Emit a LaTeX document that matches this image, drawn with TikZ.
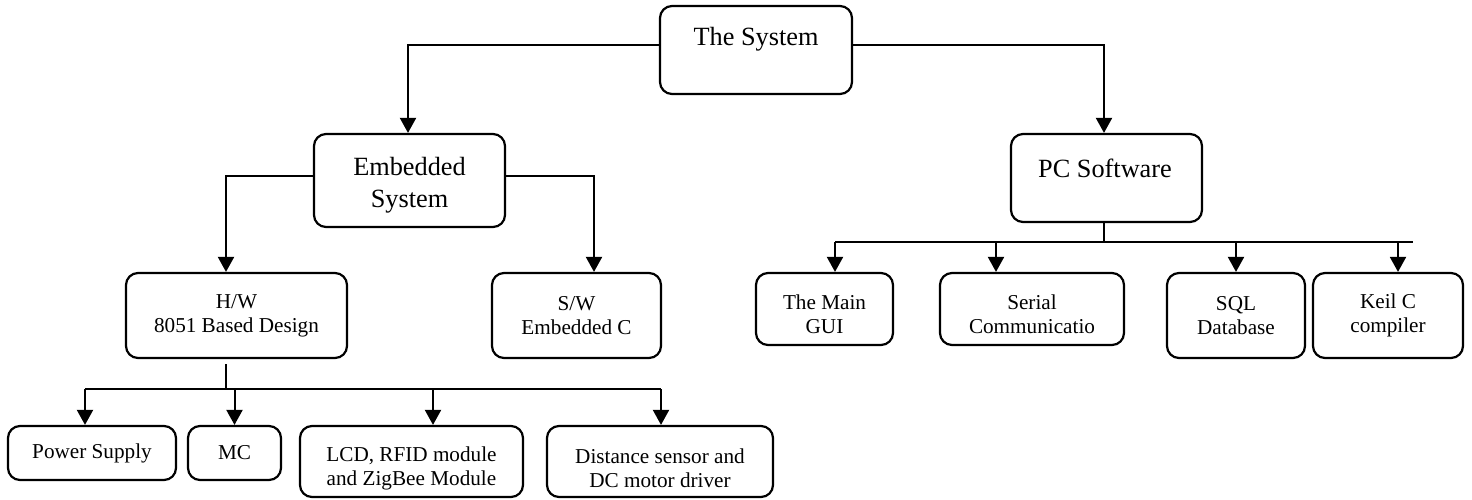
\documentclass[tikz,border=0pt]{standalone}
\usepackage{fontspec}
\setmainfont{Liberation Serif}
\usetikzlibrary{arrows.meta}
\begin{document}
\begin{tikzpicture}[x=0.5pt,y=-0.5pt,
  box/.style={draw, line width=1.1pt, rounded corners=6pt, inner sep=0pt, align=center},
  txt/.style={inner sep=0pt, align=center},
  big/.style={font=\fontsize{13.15}{16}\selectfont},
  small/.style={font=\fontsize{10.6}{12}\selectfont},
  conn/.style={line width=1pt},
  arr/.style={line width=1pt, -{Triangle[length=7.5pt,width=8pt]}}]
\useasboundingbox (0,0) rectangle (1472,499);

% boxes
\node[box, minimum width=96pt, minimum height=44pt] (sys) at (756,50) {};
\node[txt, big] (systxt) at (756,39) {The System};
\node[box, minimum width=95.5pt, minimum height=46.5pt] (emb) at (409.5,180.5) {};
\node[txt, big] (embtxt) at (409.5,185) {Embedded\\System};
\node[box, minimum width=95.5pt, minimum height=44pt] (pc) at (1106.5,178) {};
\node[txt, big] (pctxt) at (1105,168) {PC Software};
\node[box, small, minimum width=110.5pt, minimum height=42.5pt] (hw) at (236.5,315.5) {H/W\\8051 Based Design};
\node[box, small, minimum width=84.5pt, minimum height=42.5pt] (sw) at (576.5,315.5) {S/W\\Embedded C};
\node[box, minimum width=68.5pt, minimum height=36pt] (gui) at (824.5,309) {};
\node[txt, small] (guitxt) at (824.5,314.5) {The Main\\GUI};
\node[box, minimum width=92pt, minimum height=36pt] (ser) at (1032,309) {};
\node[txt, small] (sertxt) at (1032,314.5) {Serial\\Communicatio};
\node[box, small, minimum width=69pt, minimum height=42.5pt] (sql) at (1236,315.5) {SQL\\Database};
\node[box, small, minimum width=75pt, minimum height=42.5pt] (keil) at (1388,315.5) {Keil C\\compiler};
\node[box, small, minimum width=84pt, minimum height=27pt] (ps) at (92,453) {Power Supply};
\node[box, small, minimum width=46.5pt, minimum height=27pt] (mc) at (234.5,453) {MC};
\node[box, minimum width=111.5pt, minimum height=35.5pt] (lcd) at (411.5,461.5) {};
\node[txt, small] (lcdtxt) at (411.5,468) {LCD, RFID module\\and ZigBee Module};
\node[box, minimum width=113pt, minimum height=35.5pt] (dist) at (660,461.5) {};
\node[txt, small] (disttxt) at (660,468) {Distance sensor and\\DC motor driver};

% top level
\draw[arr] ([yshift=2.5pt]sys.west) -| ([xshift=-0.75pt]emb.north);
\draw[arr] ([yshift=2.5pt]sys.east) -| ([xshift=-1.25pt]pc.north);

% embedded level
\draw[arr] ([yshift=2.25pt]emb.west) -| ([xshift=-5.25pt]hw.north);
\draw[arr] ([yshift=2.25pt]emb.east) -| ([xshift=8.75pt]sw.north);

% hardware bus
\coordinate (hwbus) at (226,389);
\coordinate (hwL) at (85,389);
\coordinate (hwR) at (661,389);
\coordinate (hwA) at (433,389);
\draw[conn] ([xshift=-5.25pt,yshift=-2.5pt]hw.south) -- (hwbus);
\draw[conn] (hwL) -- (hwR);
\draw[arr] (hwL) -- (hwL |- ps.north);
\draw[arr] (mc.north |- hwL) -- (mc.north);
\draw[arr] (hwA) -- (hwA |- lcd.north);
\draw[arr] (hwR) -- (hwR |- dist.north);

% pc bus
\coordinate (pcbus) at (1104,242);
\coordinate (pcL) at (835,242);
\coordinate (pcR) at (1413,242);
\coordinate (pcB) at (996,242);
\coordinate (pcC) at (1236,242);
\coordinate (pcD) at (1398,242);
\draw[conn] ([xshift=-1.25pt]pc.south) -- (pcbus);
\draw[conn] (pcL) -- (pcR);
\draw[arr] (pcL) -- (pcL |- gui.north);
\draw[arr] (pcB) -- (pcB |- ser.north);
\draw[arr] (pcC) -- (pcC |- sql.north);
\draw[arr] (pcD) -- (pcD |- keil.north);
\end{tikzpicture}
\end{document}
